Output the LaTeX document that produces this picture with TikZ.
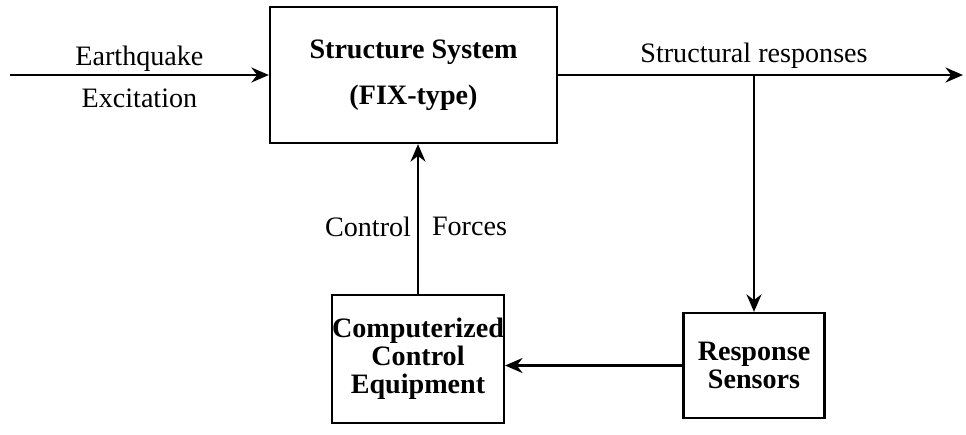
\documentclass[tikz,border=0pt]{standalone}
\usepackage{fontspec}
\setmainfont{Liberation Serif}
\usetikzlibrary{positioning,arrows.meta,calc}

\begin{document}
\begin{tikzpicture}[
  block/.style={draw, line width=1.3pt, inner sep=0pt, align=center,
                font=\fontsize{16}{16}\selectfont\bfseries},
  arrow/.style={-{Stealth[length=3.5mm,width=3mm]}, line width=1.3pt},
  lbl/.style={font=\fontsize{16}{19}\selectfont},
  >=Stealth
]
\useasboundingbox (0,0) rectangle (19.32,-8.68);

% blocks
\node[block, minimum width=5.74cm, minimum height=2.72cm,
      font=\fontsize{16}{26}\selectfont\bfseries] (plant) at (8.27,-1.5)
      {Structure System\\(FIX-type)};
\node[block, minimum width=2.82cm, minimum height=2.1cm] (sensor) at (15.08,-7.31)
      {Response\\Sensors};
\node[block, minimum width=3.4cm, minimum height=2.56cm] (ctrl) at (8.36,-7.18)
      {Computerized\\Control\\Equipment};

\coordinate (quake) at (0.2,-1.5);
\coordinate (out) at (19.26,-1.5);
\coordinate (tap) at (15.08,-1.5);

% connectors
\draw[arrow] (quake) -- node[lbl, above=-2pt] (eq) {Earthquake}
                        node[lbl, below=4pt] (ex) {Excitation} (plant);
\draw[arrow] (plant) -- (out);
\node[lbl, above=0pt of tap] (resp) {Structural responses};
\draw[arrow] (tap) -- (sensor);
\draw[arrow] (sensor.west) -- (sensor.west -| ctrl.east);
\draw[arrow] (ctrl.north) -- node[lbl, pos=0.45, left=0pt] (cf1) {Control}
                             node[lbl, pos=0.45, right=4pt] (cf2) {Forces} (ctrl.north |- plant.south);

\end{tikzpicture}
\end{document}
